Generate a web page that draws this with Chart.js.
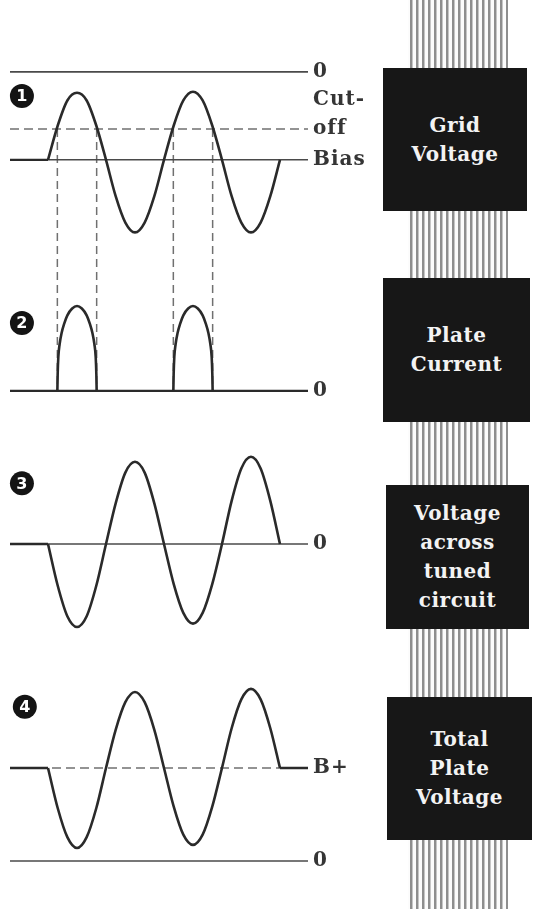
<!DOCTYPE html>
<html>
<head>
<meta charset="utf-8">
<script src="https://cdn.jsdelivr.net/npm/chart.js@4.4.1/dist/chart.umd.min.js"></script>
<style>
  body { margin: 0; background: #fff; }
  #page { position: relative; width: 536px; height: 909px; overflow: hidden; }
  #waves { position: absolute; left: 0; top: 0; }
  .strip {
    position: absolute; left: 408px; top: 0; width: 100px; height: 909px;
    background: repeating-linear-gradient(90deg, #fcfcfc 0 2px, #8e8e8e 2px 4px, #c6c6c6 4px 5px, #fcfcfc 5px 6px);
  }
  .box {
    position: absolute; background: #171717; color: #f3f3f3;
    display: flex; align-items: center; justify-content: center; text-align: center;
    font: bold 20px/29px "DejaVu Serif", serif; letter-spacing: 0.5px;
  }
</style>
</head>
<body>
<div id="page">
  <canvas id="waves" width="536" height="909"></canvas>
  <div class="strip"></div>
  <div class="box" style="left:383px;top:68px;width:144px;height:143px">Grid<br>Voltage</div>
  <div class="box" style="left:383px;top:278px;width:147px;height:144px">Plate<br>Current</div>
  <div class="box" style="left:386px;top:485px;width:143px;height:144px">Voltage<br>across<br>tuned<br>circuit</div>
  <div class="box" style="left:387px;top:697px;width:145px;height:143px">Total<br>Plate<br>Voltage</div>
</div>
<script>
// time axis in electrical degrees of the grid drive
const xStart = -118;
const xEnd = 807;
const phase = [0, 30, 60, 90, 120, 150, 180, 210, 240, 270, 300, 330, 360,
               390, 420, 450, 480, 510, 540, 570, 600, 630, 660, 690, 720];

// 1 - grid voltage (V)
const biasVolts = -40;
const cutoffVolts = -26;
const gridVolts = [-40, -24.5, -13, -9.5, -13, -24.5, -40, -56.5, -68.5, -73, -68.5, -56.5, -40,
                   -24.5, -13, -9, -13, -24.5, -40, -56.5, -68.5, -73, -68.5, -56.5, -40];

// 2 - plate current (mA), flows only while grid is above cut-off
const conductionEdges = [29, 151, 389, 511];
const currentPhase = [29, 30, 32, 36, 42, 50, 60, 75, 90, 105, 120, 130, 138, 144, 148, 150, 151, 270,
                      389, 390, 392, 396, 402, 410, 420, 435, 450, 465, 480, 490, 498, 504, 508, 510, 511];
const currentMa = [0, 20, 40, 55, 68, 79, 89, 97, 100, 97, 89, 79, 68, 55, 40, 20, 0, null,
                   0, 20, 40, 55, 68, 79, 89, 97, 100, 97, 89, 79, 68, 55, 40, 20, 0];

// 3 - voltage across tuned circuit (V)
const tankVolts = [0, -50, -87, -100, -87, -50, 0, 49, 86, 99, 86, 49, 0,
                   -48, -83, -96, -83, -48, 0, 52, 91, 105, 91, 52, 0];

// 4 - total plate voltage (V)
const bPlus = 300;
const plateVolts = [300, 171, 77, 42, 77, 171, 300, 423, 512, 545, 512, 423, 300,
                    176, 85, 52, 85, 176, 300, 428, 521, 555, 521, 428, 300];

const pts = (xs, ys) => xs.map((x, i) => ({x, y: ys[i]}));
const flat = (y, a = xStart, b = xEnd) => [{x: a, y}, {x: b, y}];

const ink = '#2a2a2a';
const rule = '#4a4a4a';
const dash = '#707070';

const wave = (data, axis) => ({
  data: pts(phase, data), yAxisID: axis, borderColor: ink, borderWidth: 2.6,
  cubicInterpolationMode: 'monotone'
});
const line = (data, axis, color, width, dashed) => ({
  data, yAxisID: axis, borderColor: color, borderWidth: width, tension: 0,
  borderDash: dashed ? [9, 5] : []
});

const sideLabels = [
  {axis: 'yGrid', value: 0, text: '0'},
  {axis: 'yGrid', value: cutoffVolts, text: 'Cut-', line: -1},
  {axis: 'yGrid', value: cutoffVolts, text: 'off'},
  {axis: 'yGrid', value: biasVolts, text: 'Bias'},
  {axis: 'yPlate', value: 0, text: '0'},
  {axis: 'yTank', value: 0, text: '0'},
  {axis: 'yTotal', value: bPlus, text: 'B+'},
  {axis: 'yTotal', value: 0, text: '0'}
];
const badges = [
  {axis: 'yGrid', x: -81, y: -11, text: '1'},
  {axis: 'yPlate', x: -81, y: 80, text: '2'},
  {axis: 'yTank', x: -81, y: 73, text: '3'},
  {axis: 'yTotal', x: -72, y: 497, text: '4'}
];

const overlay = {
  id: 'overlay',
  beforeDatasetsDraw(chart) {
    const {ctx, scales} = chart;
    const top = scales.yGrid.getPixelForValue(cutoffVolts);
    const bottom = scales.yPlate.getPixelForValue(0);
    ctx.save();
    ctx.strokeStyle = dash;
    ctx.lineWidth = 1.5;
    ctx.setLineDash([8, 5]);
    conductionEdges.forEach(p => {
      const px = scales.x.getPixelForValue(p);
      ctx.beginPath();
      ctx.moveTo(px, top);
      ctx.lineTo(px, bottom);
      ctx.stroke();
    });
    ctx.restore();
  },
  afterDatasetsDraw(chart) {
    const {ctx, chartArea, scales} = chart;
    ctx.save();
    ctx.font = 'bold 20px "DejaVu Serif", serif';
    ctx.letterSpacing = '1px';
    ctx.fillStyle = '#353535';
    ctx.textBaseline = 'middle';
    sideLabels.forEach(l => {
      const y = scales[l.axis].getPixelForValue(l.value) + (l.line || 0) * 29;
      ctx.fillText(l.text, chartArea.right + 5, y);
    });
    ctx.letterSpacing = '0px';
    ctx.textAlign = 'center';
    ctx.font = 'bold 16px "DejaVu Sans", sans-serif';
    badges.forEach(b => {
      const cx = scales.x.getPixelForValue(b.x);
      const cy = scales[b.axis].getPixelForValue(b.y);
      ctx.fillStyle = '#141414';
      ctx.beginPath();
      ctx.arc(cx, cy, 12, 0, Math.PI * 2);
      ctx.fill();
      ctx.fillStyle = '#fff';
      ctx.fillText(b.text, cx, cy + 1);
    });
    ctx.restore();
  }
};

const yAxis = (min, max, weight, stackWeight) => ({
  type: 'linear', display: false, position: 'left', stack: 'panels',
  min, max, weight, stackWeight
});

new Chart(document.getElementById('waves'), {
  type: 'line',
  data: {
    datasets: [
      wave(gridVolts, 'yGrid'),
      line(flat(biasVolts, xStart, 0), 'yGrid', ink, 2.4),
      line(flat(0), 'yGrid', rule, 1.6),
      line(flat(cutoffVolts), 'yGrid', dash, 1.5, true),
      line(flat(biasVolts), 'yGrid', rule, 1.5),

      {data: pts(currentPhase, currentMa), yAxisID: 'yPlate', borderColor: ink,
       borderWidth: 2.6, cubicInterpolationMode: 'monotone'},
      line(flat(0), 'yPlate', ink, 2.2),

      wave(tankVolts, 'yTank'),
      line(flat(0, xStart, 0), 'yTank', ink, 2.4),
      line(flat(0), 'yTank', rule, 1.5),

      wave(plateVolts, 'yTotal'),
      line([{x: xStart, y: bPlus}, {x: 0, y: bPlus}, {x: 360, y: null},
            {x: 720, y: bPlus}, {x: xEnd, y: bPlus}], 'yTotal', ink, 2.4),
      line(flat(bPlus), 'yTotal', dash, 1.5, true),
      line(flat(0), 'yTotal', rule, 1.5)
    ]
  },
  options: {
    responsive: false,
    animation: false,
    events: [],
    elements: { point: { radius: 0 } },
    layout: { padding: { left: 10, right: 228, top: 62, bottom: 34 } },
    plugins: { legend: { display: false }, tooltip: { enabled: false } },
    scales: {
      x: { type: 'linear', display: false, min: xStart, max: xEnd },
      yGrid: yAxis(-81, 4.5, 4, 188),
      yPlate: yAxis(-22.4, 165.9, 3, 160),
      yTank: yAxis(-139.8, 161.4, 2, 250),
      yTotal: yAxis(-45, 648, 1, 215)
    }
  },
  plugins: [overlay]
});
</script>
</body>
</html>
